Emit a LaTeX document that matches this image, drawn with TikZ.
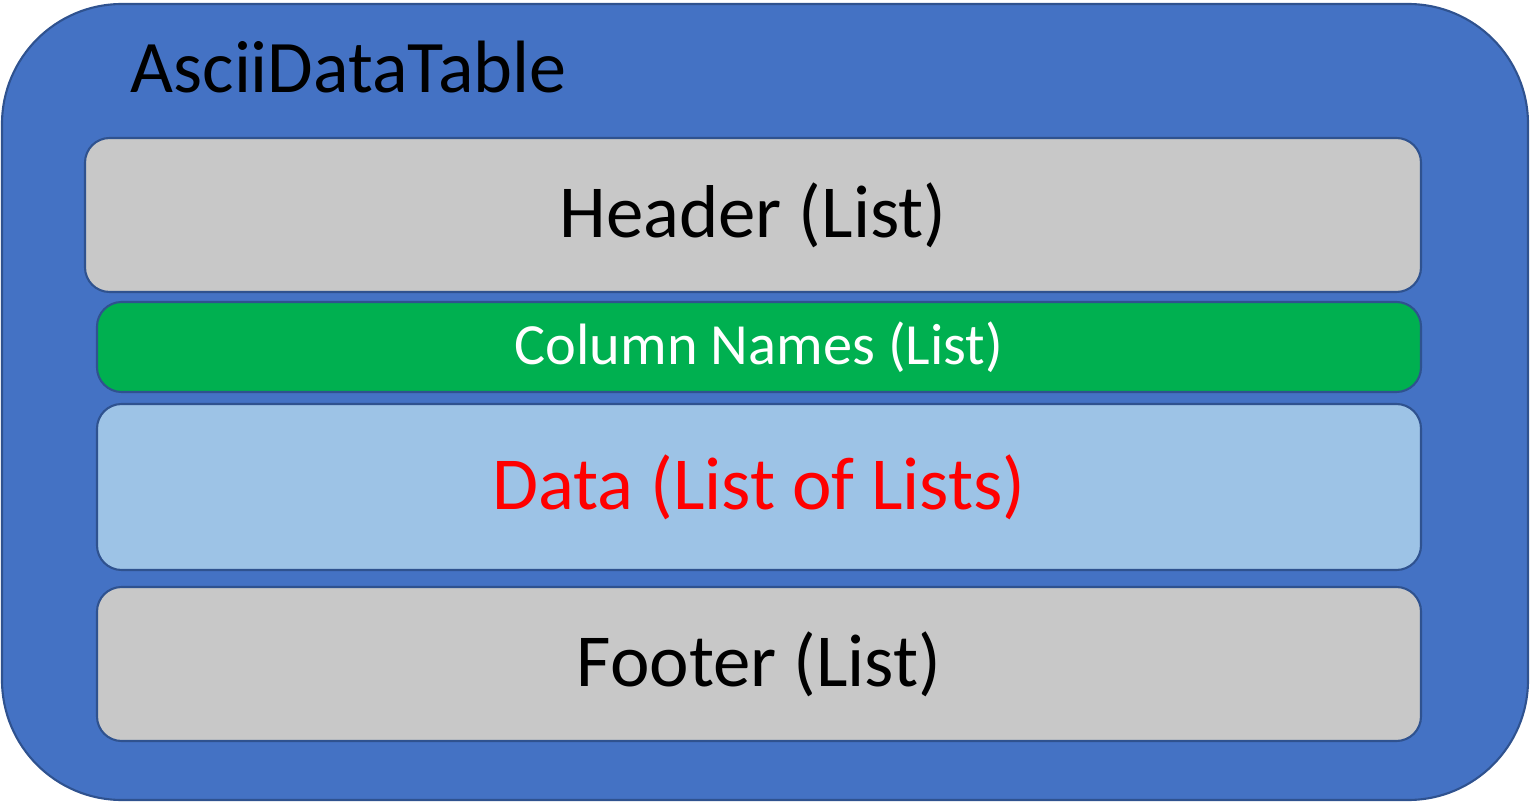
\documentclass[tikz,border=0pt]{standalone}
\usepackage{fontspec}
\setmainfont{Carlito}
\usetikzlibrary{positioning}
\definecolor{frameblue}{HTML}{4472C4}
\definecolor{edgeblue}{HTML}{2F528F}
\definecolor{boxgray}{HTML}{C8C8C8}
\definecolor{colgreen}{HTML}{00B050}
\definecolor{datablue}{HTML}{9DC3E6}
\tikzset{
  layer/.style={draw=edgeblue, line width=0.6pt, rounded corners=7pt, inner sep=0pt,
    minimum width=13.24cm, font=\fontsize{21.3}{24}\selectfont},
}
\begin{document}
\begin{tikzpicture}
\useasboundingbox (0,0) rectangle (15.30,-8.03);
% outer frame
\node[draw=edgeblue, line width=0.6pt, fill=frameblue, rounded corners=1.2cm,
  minimum width=15.26cm, minimum height=7.96cm] (table) at (7.65,-4.02) {};
\node[anchor=base west, inner sep=0pt, font=\fontsize{21.1}{24}\selectfont] (title) at (1.30,-0.93) {AsciiDataTable};
% layers
\node[layer, fill=boxgray, minimum width=13.36cm, minimum height=1.54cm] (header) at (7.53,-2.15) {Header (List)};
\node[layer, fill=colgreen, text=white, minimum height=0.90cm, font=\fontsize{16.6}{19}\selectfont] (colnames) at (7.59,-3.47) {Column Names (List)};
\node[layer, fill=datablue, text=red, minimum height=1.66cm, font=\fontsize{21.3}{24}\selectfont] (data) at (7.59,-4.87) {Data (List of Lists)};
\node[layer, fill=boxgray, minimum height=1.54cm] (footer) at (7.59,-6.64) {Footer (List)};
\end{tikzpicture}
\end{document}
